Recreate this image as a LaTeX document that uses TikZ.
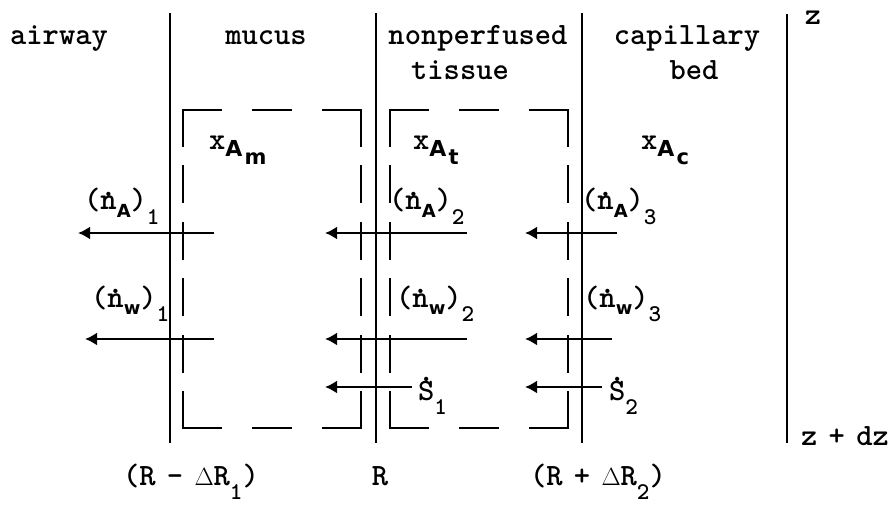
\documentclass[tikz,border=0pt]{standalone}
\usepackage{fontspec}
\setsansfont{DejaVu Sans}
\usetikzlibrary{positioning,arrows.meta}

\newcommand{\ndot}{\ooalign{n\cr\hidewidth\raisebox{0.42em}{.}\hidewidth\cr}}
\newcommand{\Sdot}{\ooalign{S\cr\hidewidth\raisebox{0.6em}{.}\hidewidth\cr}}
\newcommand{\spc}[1]{\raisebox{-7pt}{\fontsize{18}{18}\sffamily\bfseries #1}}
\newcommand{\idx}[1]{\raisebox{-14pt}{\fontsize{24}{24}\selectfont #1}}
\newcommand{\molfrac}[1]{x\raisebox{-7pt}{\fontsize{22}{22}\sffamily\bfseries A}\kern2pt\raisebox{-15pt}{\fontsize{21}{21}\sffamily\bfseries #1}}

\begin{document}
\begin{tikzpicture}[
    x=1pt, y=-1pt,
    wallLine/.style={line width=2.4pt},
    cvBox/.style={line width=2.2pt, line cap=rect},
    cvBoxH/.style={cvBox, dash pattern=on 38pt off 32pt},
    cvBoxV/.style={cvBox, dash pattern=on 36pt off 20.4pt},
    fluxArrow/.style={-{Latex[length=12pt,width=13pt]}, line width=2.2pt},
    textLabel/.style={font=\ttfamily\bfseries\fontsize{31}{34}\selectfont, anchor=base, inner sep=0pt},
    subLabel/.style={textLabel, anchor=base west}
]
\useasboundingbox (0,0) rectangle (891,505);

% ================= WALLS =================
\coordinate (airTop) at (170,13);
\coordinate (airBot) at (170,443);
\coordinate (midTop) at (376,13);
\coordinate (midBot) at (376,443);
\coordinate (capTop) at (582,13);
\coordinate (capBot) at (582,443);
\coordinate (zTop) at (787,14);
\coordinate (zBot) at (787,443);

\draw[wallLine] (airTop) -- (airBot);
\draw[wallLine] (midTop) -- (midBot);
\draw[wallLine] (capTop) -- (capBot);
\draw[wallLine] (zTop) -- (zBot);

% ================= CONTROL VOLUMES =================
\coordinate (mucusNW) at (183,110);
\coordinate (mucusSE) at (361,428);
\coordinate (tissueNW) at (390,110);
\coordinate (tissueSE) at (568,428);

\draw[cvBoxH] (mucusNW) -- (mucusNW -| mucusSE);
\draw[cvBoxH] (mucusSE) -- (mucusSE -| mucusNW);
\draw[cvBoxV] (mucusNW) -- (mucusNW |- mucusSE);
\draw[cvBoxV] (mucusSE) -- (mucusSE |- mucusNW);

\draw[cvBoxH] (tissueNW) -- (tissueNW -| tissueSE);
\draw[cvBoxH] (tissueSE) -- (tissueSE -| tissueNW);
\draw[cvBoxV] (tissueNW) -- (tissueNW |- tissueSE);
\draw[cvBoxV] (tissueSE) -- (tissueSE |- tissueNW);

% ================= REGION LABELS =================
\node[textLabel] (airway) at (59,45) {airway};
\node[textLabel] (mucus) at (266,45) {mucus};
\node[textLabel] (nonperf) at (478,45) {nonperfused};
\node[textLabel] (tissue) at ([yshift=-35pt, xshift=-18pt]nonperf.base) {tissue};
\node[textLabel] (capillary) at (687,45) {capillary};
\node[textLabel] (bed) at ([yshift=-35pt, xshift=7pt]capillary.base) {bed};

\node[textLabel] (zLbl) at (813,25) {z};
\node[subLabel] (dzLbl) at (801,445) {z\kern-5pt\ +\kern-5pt\ dz};

\node[subLabel] (xAm) at (209,150) {\molfrac{m}};
\node[subLabel] (xAt) at (413,150) {\molfrac{t}};
\node[subLabel] (xAc) at (641,150) {\molfrac{c}};

% ================= FLUXES =================
\coordinate (nA1s) at (214,233);
\coordinate (nA1t) at (78,233);
\coordinate (nA2s) at (467,233);
\coordinate (nA2t) at (325,233);
\coordinate (nA3s) at (617,233);
\coordinate (nA3t) at (525,233);

\coordinate (nw1s) at (214,339);
\coordinate (nw1t) at (85,339);
\coordinate (nw2s) at (467,339);
\coordinate (nw2t) at (325,339);
\coordinate (nw3s) at (612,339);
\coordinate (nw3t) at (525,339);

\coordinate (S1s) at (412,387);
\coordinate (S1t) at (325,387);
\coordinate (S2s) at (602,387);
\coordinate (S2t) at (525,387);

\draw[fluxArrow] (nA1s) -- (nA1t);
\draw[fluxArrow] (nA2s) -- (nA2t);
\draw[fluxArrow] (nA3s) -- (nA3t);
\draw[fluxArrow] (nw1s) -- (nw1t);
\draw[fluxArrow] (nw2s) -- (nw2t);
\draw[fluxArrow] (nw3s) -- (nw3t);
\draw[fluxArrow] (S1s) -- (S1t);
\draw[fluxArrow] (S2s) -- (S2t);

\node[subLabel] (nA1) at (84,210) {(\ndot\spc{A})\idx{1}};
\node[subLabel] (nA2) at (389,210) {(\ndot\spc{A})\idx{2}};
\node[subLabel] (nA3) at (581,210) {(\ndot\spc{A})\idx{3}};
\node[subLabel] (nw1) at (91,307) {(\ndot\spc{w})\idx{1}};
\node[subLabel] (nw2) at (396,307) {(\ndot\spc{w})\idx{2}};
\node[subLabel] (nw3) at (583,307) {(\ndot\spc{w})\idx{3}};
\node[subLabel] (S1) at (418,400) {\Sdot\idx{1}};
\node[subLabel] (S2) at (609,400) {\Sdot\idx{2}};

% ================= RADIAL POSITIONS =================
\node[textLabel] (rIn) at (191,485) {(R\kern-5pt\ -\kern-5pt\ $\Delta$R\idx{1})};
\node[textLabel] (rMid) at (380,485) {R};
\node[textLabel] (rOut) at (598,485) {(R\kern-5pt\ +\kern-5pt\ $\Delta$R\idx{2})};

\end{tikzpicture}
\end{document}
